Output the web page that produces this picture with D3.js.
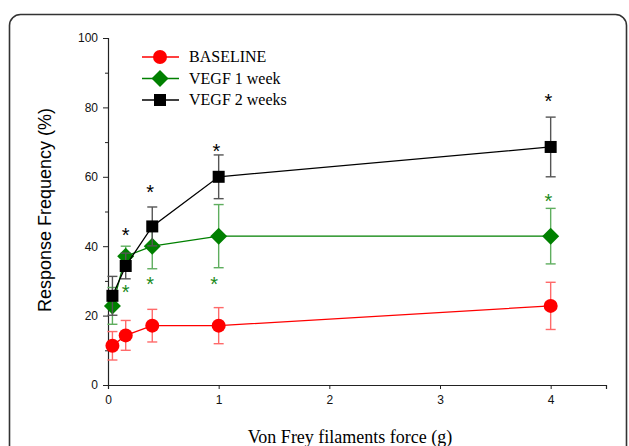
<!DOCTYPE html>
<html>
<head>
<meta charset="utf-8">
<script src="https://cdn.jsdelivr.net/npm/d3@7"></script>
<style>
  body { margin: 0; background: #fff; }
  svg { display: block; }
</style>
</head>
<body>
<script>
// filament forces (g)
var forces = [0.04, 0.16, 0.4, 1, 4];

var seriesNames = ["BASELINE", "VEGF 1 week", "VEGF 2 weeks"];
var baseline = [11.3, 14.3, 17.1, 17.1, 22.8];
var baselineErr = [4.1, 4.3, 4.7, 5.2, 6.8];
var vegf1 = [22.8, 37.1, 40.0, 42.9, 42.9];
var vegf1Err = [5.3, 2.9, 6.5, 9.1, 8.0];
var vegf2 = [25.7, 34.3, 45.7, 60.0, 68.6];
var vegf2Err = [5.6, 3.7, 5.6, 6.3, 8.6];

// significance stars: [force, height]
var starsBlack = [[0.16, 44.4], [0.38, 56.8], [0.98, 68.6], [3.98, 83]];
var starsGreen = [[0.16, 28], [0.38, 30.3], [0.96, 30.3], [3.98, 54.2]];

var xTicks = [0, 1, 2, 3, 4];
var yTicks = [0, 20, 40, 60, 80, 100];
var yMinor = [10, 30, 50, 70, 90];

var width = 629, height = 446;

var svg = d3.select("body").append("svg").attr("width", width).attr("height", height);

// rounded frame
svg.append("rect")
  .attr("x", 9.5).attr("y", 14.5)
  .attr("width", 617).attr("height", 480)
  .attr("rx", 11).attr("ry", 11)
  .attr("fill", "none").attr("stroke", "#333").attr("stroke-width", 1.6);

var x = d3.scaleLinear().domain([0, 4.5]).range([108, 606]);
var y = d3.scaleLinear().domain([0, 100]).range([385, 38]);

var xAxis = d3.axisBottom(x).tickValues(xTicks).tickSize(4).tickPadding(6).tickFormat(d3.format("d"));
var yAxis = d3.axisLeft(y).tickValues(yTicks).tickSize(5).tickPadding(5);

var gx = svg.append("g").attr("transform", "translate(0," + y(0) + ")").call(xAxis);
var gy = svg.append("g").attr("transform", "translate(" + x(0) + ",0)").call(yAxis);

svg.append("g").attr("transform", "translate(" + x(0) + ",0)")
  .call(d3.axisLeft(y).tickValues(yMinor).tickSize(3).tickFormat(""))
  .select(".domain").remove();

svg.selectAll(".domain").attr("stroke", "#222").attr("stroke-width", 1.2);
svg.selectAll(".tick line").attr("stroke", "#222");
svg.selectAll(".tick text")
  .attr("font-family", "Liberation Sans, Arial, sans-serif")
  .attr("font-size", 12).attr("fill", "#111");

// axis titles
svg.append("text")
  .attr("transform", "translate(51,210) rotate(-90)")
  .attr("text-anchor", "middle")
  .attr("font-family", "Liberation Sans, Arial, sans-serif")
  .attr("font-size", 18)
  .text("Response Frequency (%)");

svg.append("text")
  .attr("x", 350).attr("y", 443)
  .attr("text-anchor", "middle")
  .attr("font-family", "Liberation Serif, Times New Roman, serif")
  .attr("font-size", 18)
  .text("Von Frey filaments force (g)");

var series = [
  { name: seriesNames[0], vals: baseline, err: baselineErr, color: "#ff0000", errColor: "#ff6a6a", shape: "circle" },
  { name: seriesNames[1], vals: vegf1, err: vegf1Err, color: "#008000", errColor: "#5fae5f", shape: "diamond" },
  { name: seriesNames[2], vals: vegf2, err: vegf2Err, color: "#000000", errColor: "#555555", shape: "square" }
];

function marker(g, shape, color) {
  if (shape == "circle") {
    g.append("circle").attr("r", 7).attr("fill", color);
  } else if (shape == "diamond") {
    g.append("path").attr("d", "M0,-8.5L8.5,0L0,8.5L-8.5,0Z").attr("fill", color);
  } else {
    g.append("rect").attr("x", -6).attr("y", -6).attr("width", 12).attr("height", 12).attr("fill", color);
  }
}

var line = d3.line().x(function(d, i) { return x(forces[i]); }).y(function(d) { return y(d); });

series.forEach(function(s) {
  var g = svg.append("g");
  // error bars
  s.vals.forEach(function(v, i) {
    var cx = x(forces[i]);
    var eg = g.append("g").attr("stroke", s.errColor).attr("stroke-width", 1.4);
    eg.append("line").attr("x1", cx).attr("x2", cx).attr("y1", y(v - s.err[i])).attr("y2", y(v + s.err[i]));
    [v - s.err[i], v + s.err[i]].forEach(function(e) {
      eg.append("line").attr("x1", cx - 5).attr("x2", cx + 5).attr("y1", y(e)).attr("y2", y(e));
    });
  });
  g.append("path").datum(s.vals)
    .attr("d", line).attr("fill", "none")
    .attr("stroke", s.color).attr("stroke-width", 1.3);
  s.vals.forEach(function(v, i) {
    var mg = g.append("g").attr("transform", "translate(" + x(forces[i]) + "," + y(v) + ")");
    marker(mg, s.shape, s.color);
  });
});

// stars
function drawStars(list, color) {
  svg.append("g").selectAll("text")
    .data(list).enter().append("text")
    .attr("x", function(d) { return x(d[0]); })
    .attr("y", function(d) { return y(d[1]) + 11; })
    .attr("text-anchor", "middle")
    .attr("font-family", "Liberation Sans, Arial, sans-serif")
    .attr("font-size", 20)
    .attr("fill", color)
    .text("*");
}
drawStars(starsBlack, "#000");
drawStars(starsGreen, "#1a8a1a");

// legend
var legend = svg.append("g");
series.forEach(function(s, i) {
  var ly = 57 + i * 21.5;
  legend.append("line").attr("x1", 142).attr("x2", 179).attr("y1", ly).attr("y2", ly)
    .attr("stroke", s.color).attr("stroke-width", 1.3);
  var mg = legend.append("g").attr("transform", "translate(160," + ly + ")");
  marker(mg, s.shape, s.color);
  legend.append("text")
    .attr("x", 189).attr("y", ly + 5)
    .attr("font-family", "Liberation Serif, Times New Roman, serif")
    .attr("font-size", 16)
    .text(s.name);
});
</script>
</body>
</html>
